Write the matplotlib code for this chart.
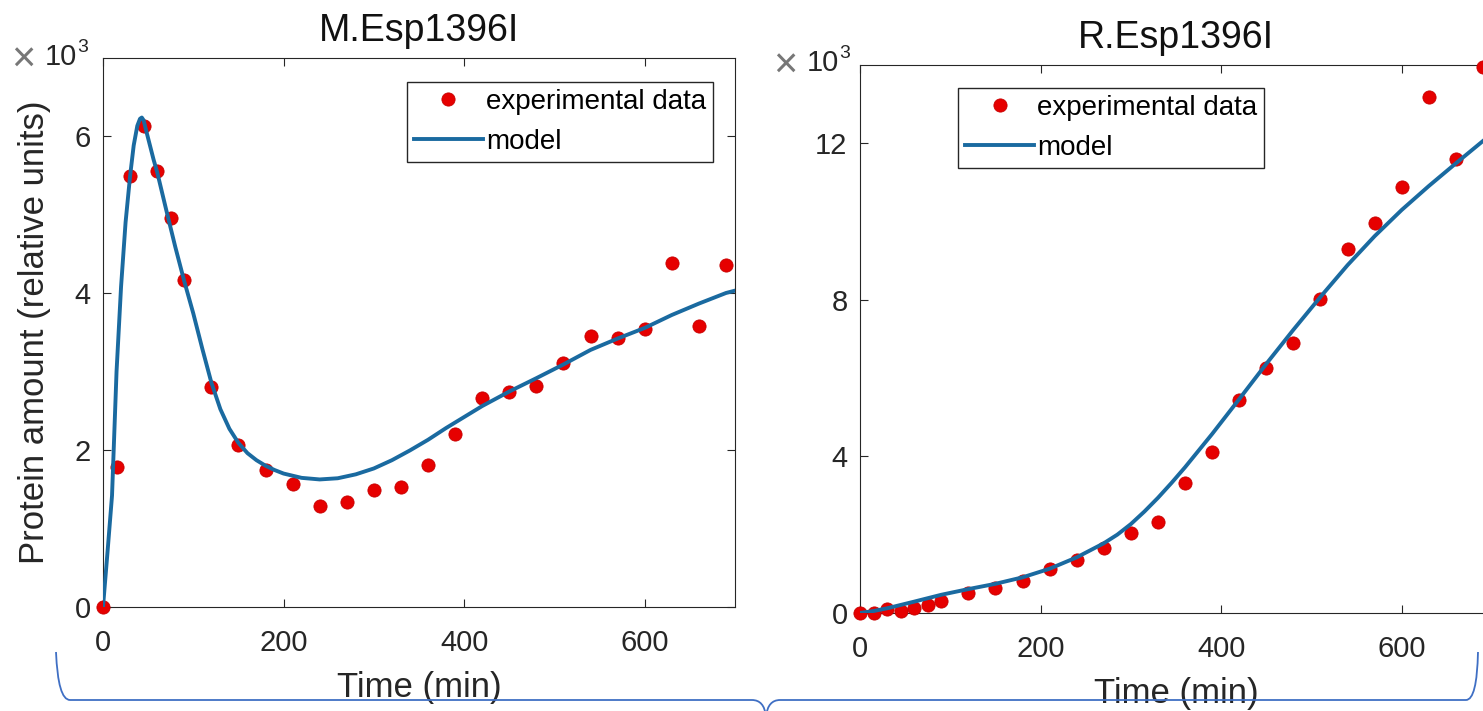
import matplotlib
matplotlib.use('Agg')
import matplotlib.pyplot as plt
from matplotlib.path import Path
from matplotlib.patches import PathPatch
import numpy as np

W, H = 1483, 711

# sampling times (min) of the experimental points
time_exp = [0, 15, 30, 45, 60, 75, 90, 120, 150, 180, 210, 240, 270, 300, 330,
            360, 390, 420, 450, 480, 510, 540, 570, 600, 630, 660, 690]

# M.Esp1396I
m_exp = [0, 1780, 5490, 6130, 5550, 4960, 4170, 2800, 2060, 1750, 1570, 1290,
         1335, 1490, 1530, 1808, 2210, 2660, 2745, 2815, 3105, 3452, 3422,
         3541, 4386, 3580, 4357]
m_model_t = [0, 5, 10, 15, 20, 25, 30, 34, 38, 41, 43, 45, 48, 52, 56, 60, 65,
             70, 80, 90, 100, 110, 120, 130, 140, 150, 160, 170, 180, 190, 200,
             220, 240, 260, 280, 300, 320, 340, 360, 380, 400, 420, 450, 480,
             510, 540, 570, 600, 630, 660, 690, 700]
m_model = [0, 700, 1420, 3000, 4080, 4900, 5490, 5880, 6130, 6220, 6235, 6200,
           6060, 5880, 5700, 5540, 5300, 5060, 4590, 4150, 3740, 3290, 2860,
           2520, 2270, 2090, 1960, 1870, 1800, 1745, 1700, 1645, 1625, 1640,
           1690, 1765, 1870, 1995, 2130, 2280, 2420, 2560, 2745, 2915, 3090,
           3275, 3420, 3555, 3720, 3865, 4000, 4030]

# R.Esp1396I
r_exp = [0, 0, 94, 59, 120, 204, 314, 501, 631, 825, 1115, 1353, 1651, 2034,
         2331, 3330, 4110, 5440, 6263, 6885, 8008, 9285, 9949, 10868, 13182,
         11583, 13947]
r_model_t = [0, 15, 30, 60, 90, 120, 150, 180, 210, 240, 270, 285, 300, 315,
             330, 345, 360, 390, 420, 450, 480, 510, 540, 570, 600, 630, 660,
             690, 700]
r_model = [0, 50, 120, 290, 465, 610, 745, 910, 1130, 1420, 1780, 2000, 2270,
           2590, 2940, 3320, 3720, 4570, 5460, 6360, 7230, 8070, 8880, 9620,
           10290, 10900, 11480, 12050, 12230]

x_ticks = [0, 200, 400, 600]
m_yticks = [0, 2, 4, 6]
r_yticks = [0, 4, 8, 12]

plt.rcParams['font.family'] = ['Liberation Sans', 'DejaVu Sans']

axcol = '#262626'
dotcol = '#e60000'
linecol = '#1a6aa0'


def px_box(left, top, right, bottom):
    return [left / W, 1 - bottom / H, (right - left) / W, (bottom - top) / H]


def StyleAxes(ax, yticks, ymax, title):
    ax.set_xlim(0, 700)
    ax.set_ylim(0, ymax)
    ax.set_xticks(x_ticks)
    ax.set_yticks(yticks)
    ax.tick_params(direction='in', length=6, width=0.8, colors=axcol,
                   labelsize=21, top=True, right=True)
    ax.tick_params(axis='x', pad=16)
    ax.tick_params(axis='y', pad=9)
    for sp in ax.spines.values():
        sp.set_color(axcol)
        sp.set_linewidth(0.8)
    ax.set_title(title, fontsize=27, pad=12, color='#111111')
    ax.set_xlabel('Time (min)', fontsize=25, labelpad=10, color=axcol)


def AddLegend(ax, loc, anchor):
    ax.legend(loc=loc, bbox_to_anchor=anchor, borderaxespad=0,
              fontsize=20, numpoints=1, handlelength=2.5, handletextpad=0.1,
              labelspacing=0.5, borderpad=0.25, fancybox=False, framealpha=1,
              edgecolor=axcol)


def AddExponent(x, y):
    # "x 10^3" written as three pieces, positions in pixels
    fig.text((x + 10) / W, 1 - (y + 7) / H, '\u00d7', fontsize=30,
             color='#777777', ha='center', va='baseline')
    fig.text((x + 32) / W, 1 - y / H, '10', fontsize=21, color=axcol,
             ha='left', va='baseline')
    fig.text((x + 64) / W, 1 - (y - 13) / H, '3', fontsize=14, color=axcol,
             ha='left', va='baseline')


fig = plt.figure(figsize=(W / 100, H / 100), dpi=100)

ax1 = fig.add_axes(px_box(103, 57.5, 735, 607))
ax1.plot(time_exp, np.array(m_exp) / 1000, 'o', ms=9.5, color=dotcol,
         mec='#c80000', mew=0.6, label='experimental data', zorder=4,
         clip_on=False)
ax1.plot(m_model_t, np.array(m_model) / 1000, '-', lw=2.8, color=linecol,
         label='model', zorder=5)
StyleAxes(ax1, m_yticks, 7, 'M.Esp1396I')
ax1.set_ylabel('Protein amount (relative units)', fontsize=25, labelpad=17,
               color=axcol)
AddLegend(ax1, 'upper right', (0.965, 0.955))

ax2 = fig.add_axes(px_box(860, 64.6, 1492, 613))
ax2.plot(time_exp, np.array(r_exp) / 1000, 'o', ms=9.5, color=dotcol,
         mec='#c80000', mew=0.6, label='experimental data', zorder=4,
         clip_on=False)
ax2.plot(r_model_t, np.array(r_model) / 1000, '-', lw=2.8, color=linecol,
         label='model', zorder=5)
StyleAxes(ax2, r_yticks, 14, 'R.Esp1396I')
AddLegend(ax2, 'upper left', (0.155, 0.957))

AddExponent(13, 65)
AddExponent(775, 71)

# blue brace drawn under both panels
brace_px = [(56, 652), (58, 700), (70, 700), (752, 700), (764, 700), (766, 716),
            (768, 700), (780, 700), (1466, 700), (1477, 700), (1478, 652)]
codes = [Path.MOVETO, Path.CURVE3, Path.CURVE3, Path.LINETO, Path.CURVE3,
         Path.CURVE3, Path.CURVE3, Path.CURVE3, Path.LINETO, Path.CURVE3,
         Path.CURVE3]
verts = [(x / W, 1 - y / H) for x, y in brace_px]
fig.add_artist(PathPatch(Path(verts, codes), transform=fig.transFigure,
                         fill=False, edgecolor='#3f6fc4', lw=1.3))

fig.savefig('out.png', dpi=100)
